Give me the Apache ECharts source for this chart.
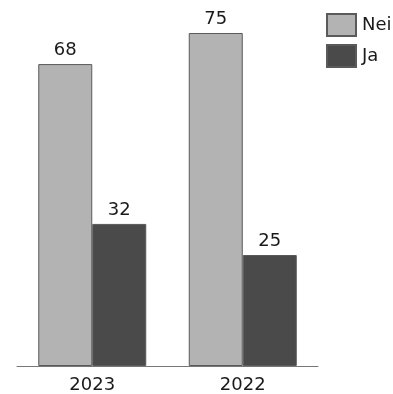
<!DOCTYPE html>
<html><head><meta charset="utf-8">
<script src="https://cdn.jsdelivr.net/npm/echarts@6/dist/echarts.min.js"></script>
<style>html,body{margin:0;padding:0;background:#fff}#c{width:393px;height:394px}</style>
</head><body><div id="c"></div>
<script>
const categories = ['2023', '2022'];
const seriesNames = ['Nei', 'Ja'];
const neiValues = [68, 75];
const jaValues = [32, 25];
const colors = ['#b3b3b3', '#4a4a4a'];
const font = 'DejaVu Sans';
const chart = echarts.init(document.getElementById('c'), null, {renderer: 'canvas'});
const mk = (name, data, color) => ({
  name, type: 'bar', data, barWidth: 54, barGap: '0%',
  itemStyle: {color, borderColor: '#5a5a5a', borderWidth: 1},
  label: {show: true, position: 'top', distance: 5, color: '#1a1a1a', fontFamily: font, fontSize: 18},
  emphasis: {disabled: true}
});
chart.setOption({
  animation: false,
  grid: {left: 17, right: 75, top: 33, bottom: 28},
  legend: {
    orient: 'vertical', left: 321, top: 8, itemWidth: 29, itemHeight: 22, itemGap: 7,
    textStyle: {fontFamily: font, fontSize: 18, color: '#1a1a1a', padding: [0,0,0,1]},
    icon: 'rect',
    data: seriesNames
  },
  xAxis: {
    type: 'category', data: categories,
    axisLine: {lineStyle: {color: '#777', width: 1}},
    axisTick: {show: false},
    axisLabel: {fontFamily: font, fontSize: 18, color: '#1a1a1a', margin: 10}
  },
  yAxis: {type: 'value', min: 0, max: 75, show: false, splitLine: {show: false}},
  series: [mk(seriesNames[0], neiValues, colors[0]), mk(seriesNames[1], jaValues, colors[1])]
});
</script></body></html>
